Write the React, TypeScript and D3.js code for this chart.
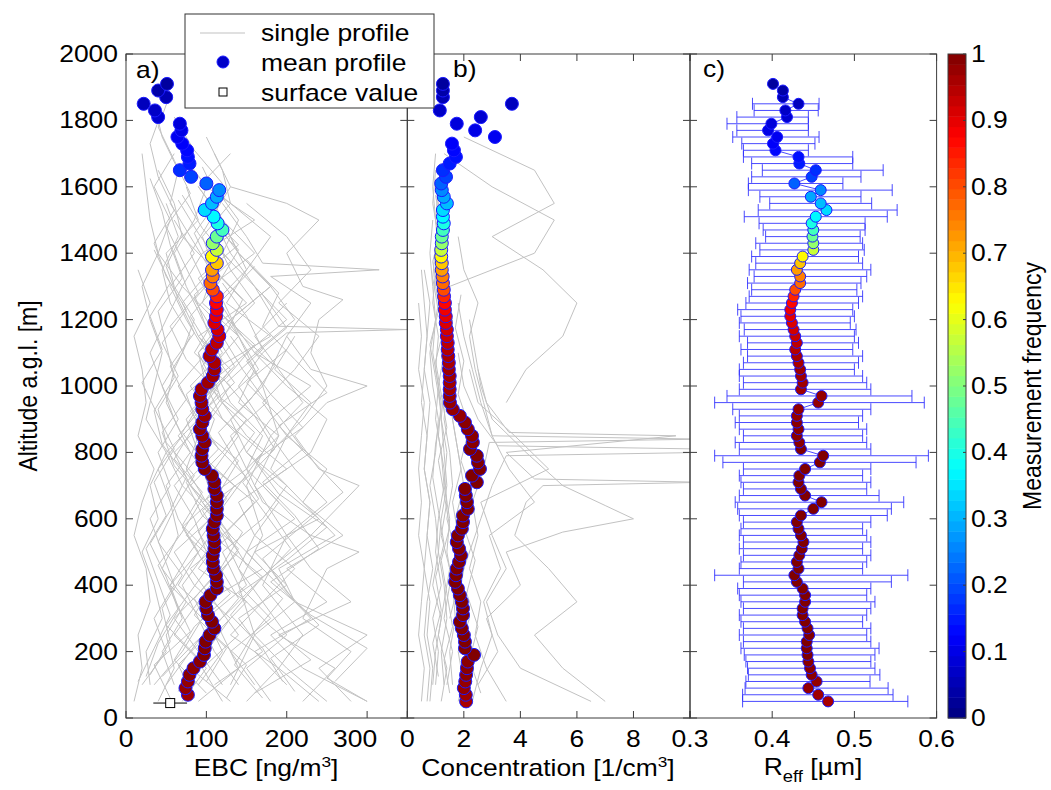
import React from 'react';
import * as d3 from 'd3';

// ---------------- DATA ----------------
// altitude levels of the mean profiles [m]
const ALT = [
  50, 70, 90, 110, 130, 150, 170, 190, 210, 230,
  250, 270, 290, 310, 330, 350, 370, 390, 410, 430,
  450, 470, 490, 510, 530, 550, 570, 590, 610, 630,
  650, 670, 690, 710, 730, 750, 770, 790, 810, 830,
  850, 870, 890, 910, 930, 950, 970, 990, 1010, 1030,
  1050, 1070, 1090, 1110, 1130, 1150, 1170, 1190, 1210, 1230,
  1250, 1270, 1290, 1310, 1330, 1350, 1370, 1390, 1410, 1430,
  1450, 1470, 1490, 1510, 1530, 1550, 1570, 1590, 1610, 1630,
  1650, 1670, 1690, 1710, 1730, 1750, 1770, 1790, 1810, 1830,
  1850, 1870, 1890, 1910,
];

// a) mean EBC [ng/m3]
const EBC_MEAN = [
  NaN, 77, 74, 77, 79, 84, 92, 97, 98, 99,
  104, 110, 107, 102, 100, 99, 105, 113, 113, 112,
  109, 108, 108, 110, 110, 109, 108, 110, 113, 113,
  113, 113, 110, 110, 107, 98, 95, 94, 95, 98,
  95, 92, 95, 98, 95, 94, 92, 94, 102, 108,
  110, 110, 104, 107, 113, 116, 114, 110, 112, 113,
  112, 113, 108, 105, 108, 107, 113, 107, 113, 108,
  113, 120, 114, 109, 98, 107, 113, 116, 100, 81,
  67, 79, 77, 76, 70, 64, 69, 67, 40, 36,
  22, 50, 40, 51,
];

// b) mean concentration [1/cm3]
const CONC_MEAN = [
  2.08, 2.07, 2.0, 2.05, 2.08, 2.11, 2.14, 2.36, 2.04, 2.04,
  2.0, 1.93, 1.86, 1.97, 1.97, 1.93, 1.86, 1.79, 1.69, 1.72,
  1.75, 1.83, 1.9, 1.83, 1.75, 1.79, 1.93, 1.97, 1.97, 2.14,
  2.11, 2.07, 2.04, 2.46, 2.29, 2.57, 2.5, 2.46, 2.22, 2.32,
  2.29, 2.14, 2.04, 1.86, 1.61, 1.51, 1.5, 1.5, 1.5, 1.5,
  1.47, 1.47, 1.45, 1.43, 1.43, 1.4, 1.4, 1.36, 1.36, 1.33,
  1.33, 1.3, 1.29, 1.26, 1.25, 1.22, 1.22, 1.2, 1.2, 1.22,
  1.22, 1.26, 1.29, 1.26, 1.26, 1.4, 1.29, 1.22, 1.2, 1.37,
  1.26, 1.5, 1.72, 1.65, 1.58, 3.1, 2.4, 1.75, 2.6, 1.15,
  3.7, 1.26, 1.26, 1.26,
];

// c) mean effective radius [um] and error bar ends
const REFF_MEAN = [
  0.468, 0.456, 0.444, 0.454, 0.448, 0.446, 0.444, 0.443, 0.442, 0.442,
  0.445, 0.443, 0.44, 0.437, 0.437, 0.44, 0.44, 0.437, 0.43, 0.427,
  0.432, 0.43, 0.433, 0.436, 0.438, 0.435, 0.432, 0.43, 0.435, 0.45,
  0.46, 0.44, 0.435, 0.432, 0.433, 0.44, 0.458, 0.462, 0.435, 0.433,
  0.43, 0.432, 0.43, 0.43, 0.432, 0.456, 0.46, 0.435, 0.437, 0.435,
  0.434, 0.432, 0.43, 0.428, 0.43, 0.428, 0.426, 0.424, 0.422, 0.422,
  0.424, 0.426, 0.428, 0.434, 0.434, 0.43, 0.434, 0.437, 0.45, 0.45,
  0.449, 0.45, 0.448, 0.453, 0.466, 0.459, 0.447, 0.459, 0.427, 0.448,
  0.453, 0.433, 0.432, 0.404, 0.401, 0.406, 0.395, 0.399, 0.418, 0.416,
  0.432, 0.413, 0.413, 0.401,
];
const REFF_LO = [
  0.364, 0.364, 0.367, 0.368, 0.371, 0.37, 0.368, 0.366, 0.362, 0.365,
  0.36, 0.365, 0.362, 0.36, 0.365, 0.362, 0.36, 0.358, 0.365, 0.33,
  0.36, 0.362, 0.365, 0.36, 0.365, 0.36, 0.362, 0.365, 0.36, 0.358,
  0.355, 0.36, 0.365, 0.362, 0.36, 0.365, 0.34, 0.33, 0.36, 0.355,
  0.365, 0.36, 0.355, 0.36, 0.352, 0.33, 0.345, 0.36, 0.365, 0.36,
  0.36, 0.365, 0.37, 0.362, 0.37, 0.36, 0.366, 0.36, 0.362, 0.358,
  0.368, 0.372, 0.375, 0.37, 0.378, 0.372, 0.38, 0.375, 0.385, 0.38,
  0.392, 0.389, 0.384, 0.366, 0.383, 0.397, 0.385, 0.371, 0.371, 0.375,
  0.388, 0.375, 0.365, 0.365, 0.363, 0.352, 0.357, 0.345, 0.357, 0.378,
  0.376, NaN, NaN, NaN,
];
const REFF_HI = [
  0.565, 0.547, 0.541, 0.519, 0.531, 0.525, 0.52, 0.525, 0.53, 0.52,
  0.515, 0.52, 0.51, 0.515, 0.52, 0.525, 0.515, 0.52, 0.545, 0.565,
  0.51, 0.515, 0.52, 0.51, 0.52, 0.515, 0.51, 0.52, 0.54, 0.545,
  0.56, 0.53, 0.515, 0.52, 0.51, 0.52, 0.575, 0.59, 0.52, 0.515,
  0.51, 0.515, 0.505, 0.51, 0.52, 0.585, 0.57, 0.52, 0.515, 0.51,
  0.5, 0.505, 0.51, 0.498, 0.505, 0.5, 0.502, 0.495, 0.5, 0.498,
  0.505, 0.51, 0.503, 0.508, 0.515, 0.52, 0.51, 0.505, 0.512, 0.51,
  0.507, 0.513, 0.513, 0.54, 0.552, 0.521, 0.508, 0.546, 0.486, 0.508,
  0.535, 0.498, 0.498, 0.444, 0.452, 0.457, 0.444, 0.444, 0.444, 0.456,
  0.457, NaN, NaN, NaN,
];

// measurement frequency per level (colour)
const FREQ = [
  0.96, 0.97, 0.98, 0.98, 0.99, 0.99, 0.99, 1, 1, 1,
  1, 1, 1, 1, 1, 1, 1, 1, 1, 1,
  1, 1, 1, 1, 1, 1, 1, 1, 1, 1,
  1, 1, 1, 1, 1, 1, 1, 1, 1, 0.99,
  0.99, 0.99, 0.99, 0.98, 0.98, 0.98, 0.98, 0.97, 0.97, 0.97,
  0.97, 0.96, 0.96, 0.95, 0.94, 0.93, 0.92, 0.91, 0.9, 0.89,
  0.87, 0.84, 0.8, 0.77, 0.75, 0.72, 0.68, 0.63, 0.57, 0.52,
  0.48, 0.44, 0.4, 0.37, 0.34, 0.31, 0.29, 0.26, 0.22, 0.19,
  0.17, 0.15, 0.14, 0.13, 0.12, 0.11, 0.1, 0.09, 0.08, 0.07,
  0.06, 0.05, 0.04, 0.03,
];

// surface EBC value with its range
const SURFACE_ALT = [45];
const SURFACE_EBC = [55];
const SURFACE_LO = [34];
const SURFACE_HI = [76];

// single profiles, regular ones: start altitude, 100 m step
const PROFILE_STEP = 100;
const EBC_PROF_START = [50, 100, 50, 100, 50, 100, 50, 100, 50, 100, 50, 100, 50, 100, 50, 100, 50, 100, 50, 100, 50, 100, 50, 100, 75, 125, 75, 125, 60, 110, 60, 110, 60, 110, 60, 110, 80, 130, 80];
const EBC_PROFILES = [
  [120, 95, 140, 110, 80, 130, 100, 75, 90, 120, 105, 140, 95, 110, 70, 60, 40],
  [60, 45, 70, 55, 90, 65, 50, 80, 60, 45, 70, 85, 60, 50, 90, 75],
  [180, 150, 200, 170, 140, 160, 190, 150, 130, 175, 145, 120, 160, 130, 110],
  [30, 25, 45, 35, 20, 40, 30, 50, 25, 35, 45, 30, 20, 40, 30, 25, 20],
  [250, 200, 160, 210, 180, 230, 170, 150, 190, 140, 160, 130],
  [90, 120, 100, 150, 130, 110, 140, 170, 120, 100, 150, 130, 180, 140, 120, 90],
  [300, 220, 180, 250, 200, 270, 220, 180, 200, 170, 210, 240, 190, 230, 200, 150],
  [140, 110, 90, 70, 100, 85, 60, 95, 110, 80, 120, 95, 75, 60, 85, 100, 70],
  [10, 20, 15, 30, 25, 10, 20, 35, 15, 25, 20, 10, 30, 15],
  [200, 160, 230, 190, 150, 210, 170, 230, 250, 200, 160, 210, 180, 140],
  [70, 100, 60, 90, 120, 75, 110, 95, 65, 100, 130, 90, 70, 105, 80, 55, 65, 45, 35],
  [160, 130, 180, 140, 120, 170, 200, 150, 180, 230, 160, 130, 180, 140, 110, 120],
  [40, 60, 50, 75, 45, 65, 55, 40, 70, 50, 60, 80, 55, 45, 65, 50],
  [110, 170, 140, 200, 160, 240, 190, 150, 130, 170, 150, 200, 160, 120, 140, 110],
  [130, 80, 110, 150, 90, 120, 160, 110, 140, 100, 120, 90, 150, 110, 95, 130, 80],
  [50, 80, 110, 65, 90, 120, 80, 60, 100, 130, 85, 110, 70, 95, 160, 100],
  [220, 260, 190, 280, 230, 200, 250, 210, 180, 220, 190, 160, 200],
  [20, 50, 35, 60, 45, 30, 55, 40, 65, 45, 30, 50, 70, 40, 55, 35, 60],
  [90, 140, 120, 100, 170, 130, 95, 150, 170, 130, 110, 180, 125, 150, 130, 110],
  [75, 100, 130, 85, 60, 105, 135, 90, 75, 110, 90, 120, 100, 80, 105, 130, 110],
  [150, 190, 130, 170, 210, 160, 140, 200, 150, 120, 165, 140, 110, 150, 180, 130, 120, 100],
  [35, 70, 95, 55, 80, 110, 70, 50, 90, 65, 100, 75, 55, 85, 60],
  [280, 240, 300, 210, 190, 260, 220, 250, 200, 230, 185, 210],
  [120, 90, 60, 100, 140, 110, 80, 120, 150, 100, 90, 130, 105, 160, 120, 90, 130],
  [100, 60, 85, 130, 95, 70, 115, 140, 90, 75, 120, 100, 85, 130, 95, 70],
  [45, 85, 130, 170, 120, 95, 150, 110, 80, 125, 160, 115, 90, 140, 100],
  [160, 230, 180, 140, 200, 250, 190, 160, 220, 180, 150, 200, 170],
  [25, 40, 65, 50, 30, 55, 75, 45, 35, 60, 50, 40, 70, 55, 45, 30],
  [85, 65, 105, 140, 115, 90, 125, 100, 70, 95, 135, 110, 85, 120, 90, 65],
  [195, 170, 130, 165, 205, 175, 145, 185, 160, 125, 170, 150, 120],
  [55, 35, 80, 60, 40, 70, 95, 60, 45, 75, 55, 85, 65, 50, 70],
  [260, 300, 230, 180, 240, 210, 170, 220, 190, 150, 200],
  [125, 150, 105, 85, 120, 145, 100, 130, 160, 115, 95, 125, 145, 105, 85, 115, 95],
  [15, 35, 55, 40, 25, 50, 35, 60, 40, 20, 45, 30, 55, 35],
  [170, 135, 160, 195, 150, 125, 165, 140, 115, 155, 185, 140, 120, 160],
  [100, 125, 85, 110, 140, 95, 75, 115, 90, 135, 105, 80, 115, 140, 100, 120, 85, 60],
  [65, 90, 50, 80, 110, 70, 95, 60, 85, 115, 75, 55, 90, 70, 50, 80, 60, 40, 55],
  [30, 55, 45, 70, 40, 60, 85, 50, 40, 65, 45, 75, 50, 35, 60, 40, 30, 45],
  [210, 180, 240, 200, 170, 220, 270, 230, 190, 250, 210, 170, 190, 150],
];
// single profiles with sharp excursions: [altitude, EBC] pairs
const EBC_SPIKY = [
  [[50, 240], [150, 190], [250, 220], [400, 170], [550, 200], [700, 160], [850, 190], [1000, 170], [1150, 200], [1250, 230], [1330, 180], [1350, 315], [1370, 170], [1450, 150], [1550, 120]],
  [[100, 130], [250, 160], [400, 140], [550, 170], [700, 150], [850, 180], [1000, 140], [1100, 170], [1160, 200], [1170, 350], [1180, 190], [1300, 160], [1400, 130], [1500, 110]],
  [[50, 300], [120, 250], [200, 280], [300, 220], [450, 250], [500, 290], [550, 230], [650, 270], [700, 290], [750, 240], [850, 210], [950, 250], [1000, 300], [1050, 230], [1150, 200]],
  [[800, 180], [900, 220], [1000, 250], [1100, 230], [1200, 240], [1260, 270], [1300, 220], [1400, 200], [1500, 240], [1550, 200], [1600, 130]],
];

const CONC_PROF_START = [50, 100, 50, 100, 100, 50, 100, 50, 100, 50, 100, 50, 75, 125, 75, 50];
const CONC_PROFILES = [
  [1.2, 1.4, 1.1, 1.3, 1.5, 1.2, 1.4, 1.3, 1.1, 1.2, 1.0, 1.1, 0.9, 1.0, 1.1, 0.9, 1.0],
  [2.0, 1.8, 2.2, 1.9, 2.1, 1.7, 2.0, 1.8, 1.6, 1.7, 1.5, 1.6, 1.4, 1.3, 1.5],
  [0.8, 0.9, 0.7, 0.8, 0.6, 0.7, 0.8, 0.6, 0.7, 0.5, 0.6, 0.7, 0.6, 0.5],
  [1.6, 1.5, 1.7, 1.6, 1.4, 1.5, 1.3, 1.4, 1.2, 1.3, 1.4, 1.2, 1.1, 1.2, 1.0, 1.1],
  [1.0, 1.1, 0.9, 1.2, 1.0, 1.1, 1.3, 1.2, 1.0, 1.1, 0.9, 1.0, 1.2, 1.1, 1.0, 0.9, 1.0],
  [6.5, 4.0, 3.2, 2.8, 3.5, 3.0, 2.6, 5.0, 3.8, 2.5, 2.2],
  [1.4, 1.6, 1.3, 1.5, 1.7, 1.4, 1.6, 1.5, 1.3, 1.4, 1.2, 1.3, 1.5, 4.5, 5.2, 3.0, 1.3],
  [0.5, 0.6, 0.4, 0.5, 0.6, 0.4, 0.5, 0.4, 0.5, 0.6, 0.4, 0.5, 0.4],
  [0.9, 1.0, 1.2, 0.9, 1.1, 1.0, 0.8, 1.0, 1.1, 0.9, 0.8, 1.0, 0.9, 0.8, 0.9],
  [1.8, 2.1, 1.9, 1.7, 2.0, 1.8, 1.6, 1.9, 1.7, 1.5, 1.6, 1.4, 1.5, 1.3],
  [1.3, 1.2, 1.4, 1.3, 1.1, 1.2, 1.4, 1.3, 1.2, 1.1, 1.3, 1.2, 1.0, 1.1, 1.2, 1.0],
  [2.3, 2.6, 3.0, 2.7, 3.3, 2.9, 4.5, 3.6, 3.0, 2.7, 2.4, 2.2, 2.5, 2.0, 1.8],
  [1.5, 1.3, 1.6, 1.4, 1.2, 1.5, 1.3, 1.1, 1.4, 1.2, 1.0, 1.3, 1.1, 0.9, 1.2, 1.0],
  [1.1, 0.9, 1.2, 1.0, 1.3, 1.1, 0.9, 1.0, 1.2, 1.0, 0.8, 1.1, 0.9, 1.0],
  [2.6, 2.2, 2.5, 2.1, 2.4, 2.0, 2.3, 1.9, 2.2, 1.8, 2.0, 1.7, 1.9],
  [0.7, 0.8, 0.6, 0.7, 0.9, 0.7, 0.8, 0.6, 0.7, 0.8, 0.6, 0.7, 0.8, 0.6],
];
const CONC_SPIKY = [
  [[50, 3.5], [150, 2.8], [250, 2.4], [350, 2.6], [450, 2.2], [550, 2.5], [650, 2.3], [750, 2.7], [830, 2.9], [840, 10.5], [850, 3.0], [950, 2.6], [1050, 2.3], [1150, 2.0], [1250, 1.8]],
  [[50, 7.0], [150, 5.5], [250, 4.5], [350, 6.0], [450, 5.0], [550, 3.8], [650, 4.2], [700, 4.8], [710, 10.5], [720, 4.5], [800, 3.5], [850, 9.5], [860, 3.6], [950, 2.8], [1050, 2.5]],
  [[100, 2.5], [200, 3.2], [300, 2.8], [400, 4.0], [500, 3.5], [560, 5.5], [600, 8.0], [640, 7.0], [700, 5.5], [800, 4.2], [900, 3.0], [1000, 2.6], [1100, 2.4], [1200, 2.2]],
  [[300, 1.5], [400, 1.8], [500, 2.2], [600, 2.6], [700, 3.0], [790, 3.5], [800, 10.5], [810, 10.5], [820, 3.2], [900, 2.5], [1000, 2.0], [1100, 1.8]],
  [[950, 3.5], [1050, 4.2], [1150, 5.5], [1250, 6.0], [1350, 4.8], [1450, 3.0], [1550, 5.2], [1650, 4.5], [1750, 2.0]],
];

const EBC_TICKS = [0, 100, 200, 300];
const CONC_TICKS = [0, 2, 4, 6, 8];
const CONC_MINOR = [10];
const REFF_TICKS = [0.3, 0.4, 0.5, 0.6];
const ALT_TICKS = [0, 200, 400, 600, 800, 1000, 1200, 1400, 1600, 1800, 2000];
const CBAR_TICKS = [0, 0.1, 0.2, 0.3, 0.4, 0.5, 0.6, 0.7, 0.8, 0.9, 1];
const LEGEND_ITEMS = ['single profile', 'mean profile', 'surface value'];

// ---------------- STYLE ----------------
const FONT = '"Liberation Sans", Arial, Helvetica, sans-serif';
const SX = 1.15;
const FS = 23;
const GRAY = '#c2c2c2';
const FRAME = '#3c3c3c';

function jet(t: number) {
  const c = (v: number) => Math.round(255 * Math.max(0, Math.min(1, v)));
  const r = c(1.5 - Math.abs(4 * t - 3));
  const g = c(1.5 - Math.abs(4 * t - 2));
  const b = c(1.5 - Math.abs(4 * t - 1));
  return `rgb(${r},${g},${b})`;
}

function T(props: any) {
  const { x, y, anchor = 'start', rotate = false, size = FS, children } = props;
  const tr = rotate
    ? `translate(${x},${y}) rotate(-90) scale(1,${SX})`
    : `translate(${x},${y}) scale(${SX},1)`;
  return (
    <text transform={tr} textAnchor={anchor} fontFamily={FONT} fontSize={size} fill="#000">
      {children}
    </text>
  );
}

const TOP = 54;
const BOTTOM = 718;
const y = d3.scaleLinear().domain([0, 2000]).range([BOTTOM, TOP]);
const xA = d3.scaleLinear().domain([0, 350]).range([126, 407.3]);
const xB = d3.scaleLinear().domain([0, 10]).range([407.3, 690]);
const xC = d3.scaleLinear().domain([0.3, 0.6]).range([690, 936.6]);
const cbarY = d3.scaleLinear().domain([0, 1]).range([BOTTOM, TOP]);
const TICK = 7;

function Frame({ xs, ticks, extra = [] as number[], labels = true, labelShift = {} as any }: any) {
  const [x0, x1] = xs.range();
  const all = [...ticks, ...extra];
  return (
    <g>
      <rect x={x0} y={TOP} width={x1 - x0} height={BOTTOM - TOP} fill="none" stroke={FRAME} strokeWidth={1} />
      {all.map((t: number, i: number) => (
        <g key={'t' + i}>
          <line x1={xs(t)} x2={xs(t)} y1={BOTTOM} y2={BOTTOM - TICK} stroke={FRAME} />
          <line x1={xs(t)} x2={xs(t)} y1={TOP} y2={TOP + TICK} stroke={FRAME} />
        </g>
      ))}
      {ALT_TICKS.map((t, i) => (
        <g key={'y' + i}>
          <line x1={x0} x2={x0 + TICK} y1={y(t)} y2={y(t)} stroke={FRAME} />
          <line x1={x1} x2={x1 - TICK} y1={y(t)} y2={y(t)} stroke={FRAME} />
        </g>
      ))}
      {labels &&
        ticks.map((t: number, i: number) => (
          <T key={'l' + i} x={xs(t) + (labelShift[t] || 0)} y={747} anchor="middle">
            {String(t)}
          </T>
        ))}
    </g>
  );
}

function profilePath(xs: any, start: number, vals: number[]) {
  const pts = vals.map((v, i) => [start + i * PROFILE_STEP, v]);
  return d3.line().x((d: any) => xs(d[1])).y((d: any) => y(d[0]))(pts as any) || '';
}
function pairPath(xs: any, pts: number[][]) {
  return d3.line().x((d: any) => xs(d[1])).y((d: any) => y(d[0]))(pts as any) || '';
}

function Dots({ xs, vals, r }: any) {
  return (
    <g>
      {ALT.map((a, i) =>
        Number.isFinite(vals[i]) ? (
          <circle key={i} cx={xs(vals[i])} cy={y(a)} r={r} fill={jet(FREQ[i])} stroke="#1a1aff" strokeWidth={1} />
        ) : null
      )}
    </g>
  );
}

export default function App() {
  const cbarN = 64;
  const cbarX = 948;
  const cbarW = 18;
  const meanLineC = d3
    .line()
    .x((d: any) => xC(d[1]))
    .y((d: any) => y(d[0]))(ALT.map((a, i) => [a, REFF_MEAN[i]]) as any) || '';

  return (
    <svg width={1051} height={790} style={{ position: 'absolute', left: 0, top: 0, display: 'block', background: '#fff' }}>
      <defs>
        <clipPath id="clipA"><rect x={126} y={TOP} width={281.3} height={BOTTOM - TOP} /></clipPath>
        <clipPath id="clipB"><rect x={407.3} y={TOP} width={282.7} height={BOTTOM - TOP} /></clipPath>
      </defs>

      {/* panel a */}
      <g clipPath="url(#clipA)">
        {EBC_PROFILES.map((p, i) => (
          <path key={i} d={profilePath(xA, EBC_PROF_START[i], p)} fill="none" stroke={GRAY} strokeWidth={1} />
        ))}
        {EBC_SPIKY.map((p, i) => (
          <path key={'s' + i} d={pairPath(xA, p)} fill="none" stroke={GRAY} strokeWidth={1} />
        ))}
      </g>
      {SURFACE_ALT.map((a, i) => (
        <g key={'sf' + i}>
          <line x1={xA(SURFACE_LO[i])} x2={xA(SURFACE_HI[i])} y1={y(a)} y2={y(a)} stroke="#000" strokeWidth={1} />
          <rect x={xA(SURFACE_EBC[i]) - 4.5} y={y(a) - 4.5} width={9} height={9} fill="#fff" stroke="#000" strokeWidth={1} />
        </g>
      ))}
      <Dots xs={xA} vals={EBC_MEAN} r={6.5} />
      <Frame xs={xA} ticks={EBC_TICKS} labelShift={{ 300: -12 }} />

      {/* panel b */}
      <g clipPath="url(#clipB)">
        {CONC_PROFILES.map((p, i) => (
          <path key={i} d={profilePath(xB, CONC_PROF_START[i], p)} fill="none" stroke={GRAY} strokeWidth={1} />
        ))}
        {CONC_SPIKY.map((p, i) => (
          <path key={'s' + i} d={pairPath(xB, p)} fill="none" stroke={GRAY} strokeWidth={1} />
        ))}
      </g>
      <Dots xs={xB} vals={CONC_MEAN} r={6.5} />
      <Frame xs={xB} ticks={CONC_TICKS} extra={CONC_MINOR} />

      {/* panel c */}
      <g stroke="#2a2aff" strokeOpacity={0.85} strokeWidth={1}>
        {ALT.map((a, i) =>
          Number.isFinite(REFF_LO[i]) ? (
            <g key={i}>
              <line x1={xC(REFF_LO[i])} x2={xC(REFF_HI[i])} y1={y(a)} y2={y(a)} />
              <line x1={xC(REFF_LO[i])} x2={xC(REFF_LO[i])} y1={y(a) - 6} y2={y(a) + 6} />
              <line x1={xC(REFF_HI[i])} x2={xC(REFF_HI[i])} y1={y(a) - 6} y2={y(a) + 6} />
            </g>
          ) : null
        )}
      </g>
      <path d={meanLineC} fill="none" stroke="#4a4aff" strokeWidth={1} />
      <Dots xs={xC} vals={REFF_MEAN} r={5.5} />
      <Frame xs={xC} ticks={REFF_TICKS} />

      {/* y axis labels */}
      {ALT_TICKS.map((t, i) => (
        <T key={i} x={118} y={y(t) + 8} anchor="end">{String(t)}</T>
      ))}
      <T x={37} y={386} anchor="middle" rotate>Altitude a.g.l. [m]</T>

      {/* x axis titles */}
      <text transform={`translate(266,776) scale(${SX},1)`} textAnchor="middle" fontFamily={FONT} fontSize={FS}>
        <tspan>EBC [ng/m</tspan>
        <tspan dy={-9} fontSize={15}>3</tspan>
        <tspan dy={9}>]</tspan>
      </text>
      <text transform={`translate(548,776) scale(${SX},1)`} textAnchor="middle" fontFamily={FONT} fontSize={FS}>
        <tspan>Concentration [1/cm</tspan>
        <tspan dy={-9} fontSize={15}>3</tspan>
        <tspan dy={9}>]</tspan>
      </text>
      <text transform={`translate(813,775) scale(${SX},1)`} textAnchor="middle" fontFamily={FONT} fontSize={FS}>
        <tspan>R</tspan>
        <tspan dy={7} fontSize={16}>eff</tspan>
        <tspan dy={-7}> [µm]</tspan>
      </text>

      {/* panel letters */}
      <T x={136} y={78}>a)</T>
      <T x={453} y={77}>b)</T>
      <T x={703} y={77}>c)</T>

      {/* colorbar */}
      {d3.range(cbarN).map((k) => {
        const t0 = k / cbarN;
        const t1 = (k + 1) / cbarN;
        return (
          <rect key={k} x={cbarX} y={cbarY(t1)} width={cbarW} height={cbarY(t0) - cbarY(t1) + 0.5} fill={jet((k + 0.5) / cbarN)} />
        );
      })}
      <rect x={cbarX} y={TOP} width={cbarW} height={BOTTOM - TOP} fill="none" stroke={FRAME} />
      {CBAR_TICKS.map((t, i) => (
        <g key={i}>
          <line x1={cbarX + cbarW} x2={cbarX + cbarW - 3} y1={cbarY(t)} y2={cbarY(t)} stroke={FRAME} />
          <T x={971} y={cbarY(t) + 8}>{String(t)}</T>
        </g>
      ))}
      <T x={1041} y={386} anchor="middle" rotate>Measurement frequency</T>

      {/* legend */}
      <rect x={185} y={14} width={249} height={94} fill="#fff" stroke="#333" strokeWidth={1} />
      <line x1={200} x2={245} y1={33} y2={33} stroke={GRAY} strokeWidth={1.2} />
      <circle cx={223} cy={62} r={6} fill="#0000c8" stroke="#1a1aff" />
      <rect x={219} y={88} width={8} height={8} fill="#fff" stroke="#000" />
      {LEGEND_ITEMS.map((s, i) => (
        <T key={i} x={261} y={41 + i * 30}>{s}</T>
      ))}
    </svg>
  );
}
